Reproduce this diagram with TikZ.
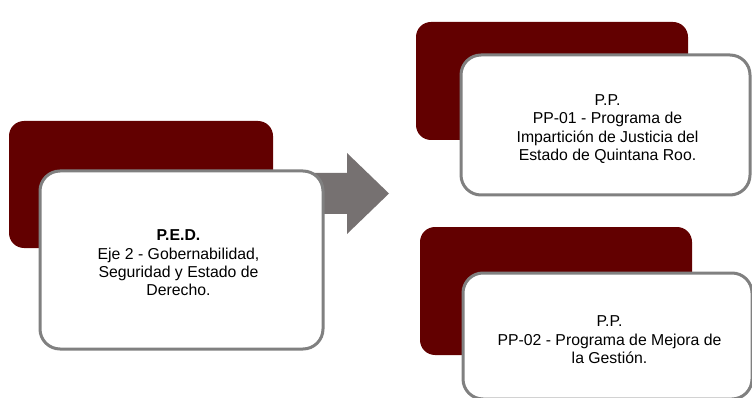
\documentclass[tikz,border=0pt]{standalone}
\usepackage{fontspec}
\setmainfont{Liberation Sans}
\definecolor{darkred}{HTML}{620000}
\definecolor{bordergray}{HTML}{808080}
\definecolor{arrowgray}{HTML}{767171}
\begin{document}
\begin{tikzpicture}[x=1pt,y=-1pt,
  backbox/.style={fill=darkred, draw=none, rounded corners=15pt, anchor=north west, inner sep=0pt, outer sep=0pt},
  frontbox/.style={fill=white, draw=bordergray, line width=3pt, rounded corners=20pt, anchor=north west, inner sep=0pt, outer sep=0pt},
  boxtext/.style={align=center, inner sep=0pt, font=\fontsize{15.8}{18.4}\selectfont},
  bigarrow/.style={fill=arrowgray, draw=none}]
\useasboundingbox (0,0) rectangle (752,398);
\clip (0,0) rectangle (752,398);
% left group
\node[backbox, minimum width=264pt, minimum height=127pt] (b1) at (9,121) {};
\coordinate (as) at (290,193.5);
\coordinate (at) at (389,193.5);
\fill[bigarrow] (as) ++(0,-20.5) -- ++(57,0) -- ++(0,-20) -- (at) -- ++(-42,40.5) -- ++(0,-20) -- ++(-57,0) -- cycle;
\node[frontbox, minimum width=283pt, minimum height=178pt] (f1) at (40,171) {};
\node[boxtext] (t1) at ([xshift=-3pt,yshift=-3pt]f1.center) {\textbf{P.E.D.}\\Eje 2 - Gobernabilidad,\\Seguridad y Estado de\\Derecho.};
% top right group
\node[backbox, minimum width=272pt, minimum height=118pt] (b2) at (416,22) {};
\node[frontbox, minimum width=289pt, minimum height=140pt] (f2) at (461,55) {};
\node[boxtext] (t2) at ([xshift=2pt,yshift=-4pt]f2.center) {P.P.\\PP-01 - Programa de\\Impartición de Justicia del\\Estado de Quintana Roo.};
% bottom right group
\node[backbox, minimum width=272pt, minimum height=128pt] (b3) at (420,227) {};
\node[frontbox, minimum width=289pt, minimum height=126pt] (f3) at (463,273) {};
\node[boxtext] (t3) at ([xshift=2pt,yshift=-4pt]f3.center) {P.P.\\PP-02 - Programa de Mejora de\\la Gestión.};
\end{tikzpicture}
\end{document}
